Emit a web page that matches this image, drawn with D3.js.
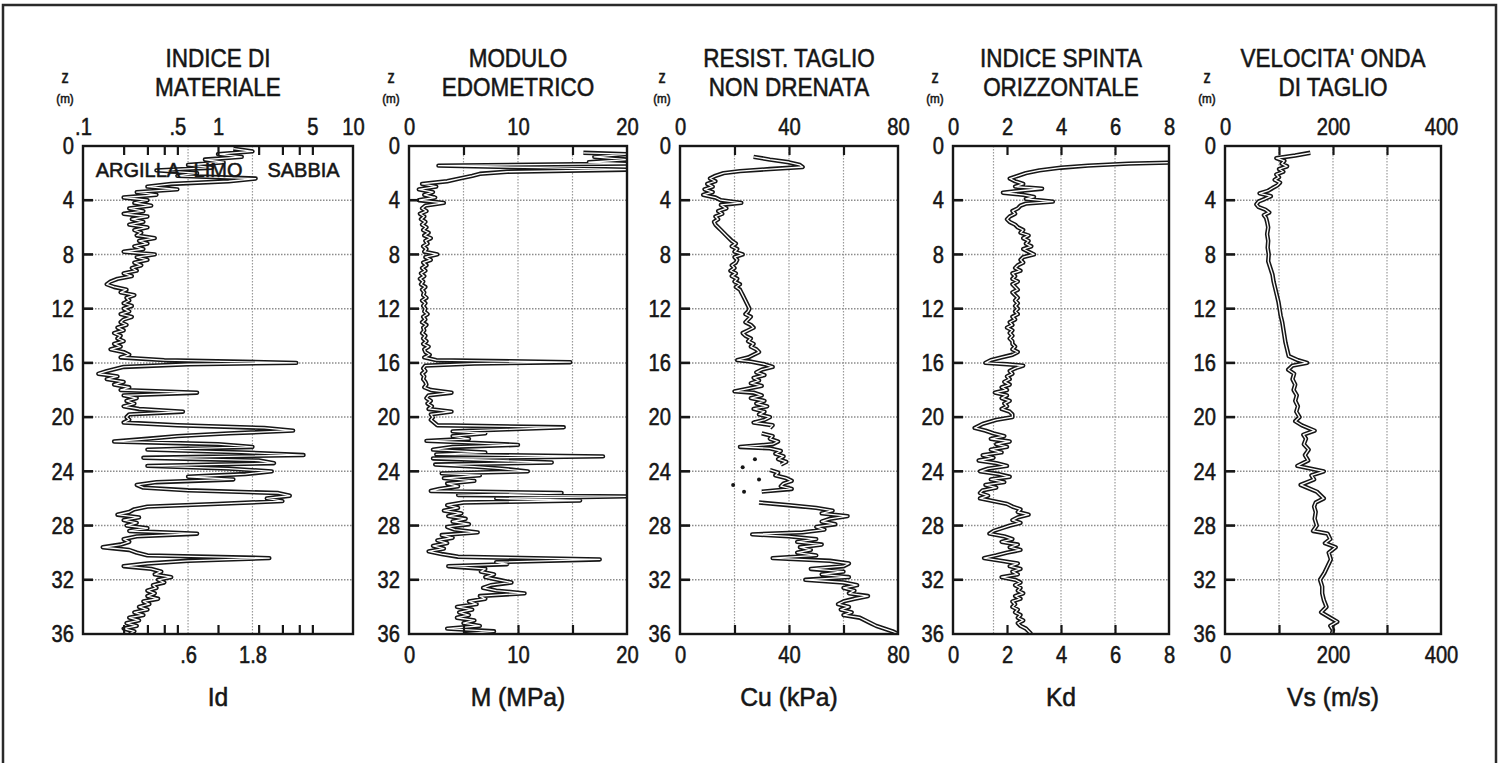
<!DOCTYPE html>
<html>
<head>
<meta charset="utf-8">
<script src="https://cdn.jsdelivr.net/npm/d3@7"></script>
<style>
  body { margin: 0; background: #fff; }
  text { font-family: "Liberation Sans", Arial, sans-serif; fill: #161616; stroke: #161616; stroke-width: 0.55px; }
</style>
</head>
<body>
<div id="chart"></div>
<script>
// ---- data: depth z (m) vs. measured value ----
const depthTicks = [0, 4, 8, 12, 16, 20, 24, 28, 32, 36];

const titles = [
  ['INDICE DI', 'MATERIALE'],
  ['MODULO', 'EDOMETRICO'],
  ['RESIST. TAGLIO', 'NON DRENATA'],
  ['INDICE SPINTA', 'ORIZZONTALE'],
  ["VELOCITA' ONDA", 'DI TAGLIO']
];
const axisTitles = ['Id', 'M (MPa)', 'Cu (kPa)', 'Kd', 'Vs (m/s)'];
const soilClasses = ['ARGILLA', 'LIMO', 'SABBIA'];
const soilClassAt = [0.255, 1.0, 4.3];

const idTopValues = [0.1, 0.5, 1, 5, 10];
const idTopLabels = ['.1', '.5', '1', '5', '10'];
const idBottomValues = [0.6, 1.8];
const idBottomLabels = ['.6', '1.8'];
const idMarks = [0.2, 0.3, 0.4, 0.5, 1, 2, 3, 4, 5];
const idGrid = [0.6, 1.8];

const mTicks = [0, 10, 20];
const mMarks = [5, 10, 15];
const cuTicks = [0, 40, 80];
const cuMarks = [20, 40, 60];
const kdTicks = [0, 2, 4, 6, 8];
const kdMarks = [2, 4, 6];
const kdGrid = [1.5, 4, 6];
const vsTicks = [0, 200, 400];
const vsMarks = [100, 200, 300];

const idProfile = [
  [0.2,1.3],[0.4,1.8],[0.6,1.0],[0.8,1.5],[1.0,0.8],[1.2,1.1],[1.4,0.6],[1.6,0.9],[1.8,0.35],[2.0,0.7],
  [2.2,0.5],[2.4,1.9],[2.6,1.2],[2.8,0.45],[3.0,0.3],[3.2,0.5],[3.4,0.25],[3.6,0.35],[3.8,0.2],[4.0,0.3],
  [4.2,0.24],[4.4,0.32],[4.6,0.22],[4.8,0.28],[5.0,0.2],[5.2,0.3],[5.4,0.23],[5.6,0.28],[5.8,0.22],[6.0,0.3],
  [6.2,0.24],[6.4,0.27],[6.6,0.25],[6.8,0.34],[7.0,0.26],[7.2,0.3],[7.4,0.24],[7.6,0.28],[7.8,0.2],[8.0,0.34],
  [8.2,0.25],[8.4,0.3],[8.6,0.24],[8.8,0.27],[9.0,0.23],[9.2,0.25],[9.4,0.2],[9.6,0.23],[9.8,0.18],[10.0,0.16],
  [10.2,0.15],[10.4,0.17],[10.6,0.21],[10.8,0.19],[11.0,0.24],[11.2,0.21],[11.4,0.22],[11.6,0.2],[11.8,0.23],[12.0,0.2],
  [12.2,0.22],[12.4,0.19],[12.6,0.23],[12.8,0.2],[13.0,0.19],[13.2,0.21],[13.4,0.18],[13.6,0.2],[13.8,0.17],[14.0,0.19],
  [14.2,0.18],[14.4,0.2],[14.6,0.17],[14.8,0.19],[15.0,0.16],[15.2,0.2],[15.4,0.22],[15.6,0.19],[15.8,0.4],[16.0,3.8],
  [16.1,0.6],[16.3,0.2],[16.6,0.15],[16.8,0.13],[17.0,0.18],[17.2,0.15],[17.4,0.2],[17.6,0.17],[17.8,0.22],[18.0,0.19],
  [18.2,0.7],[18.4,0.2],[18.6,0.25],[18.8,0.21],[19.0,0.24],[19.2,0.2],[19.4,0.26],[19.6,0.55],[19.8,0.22],[20.0,0.21],
  [20.2,0.22],[20.4,0.2],[20.6,0.5],[20.8,2.2],[21.0,3.6],[21.2,1.2],[21.4,0.5],[21.6,0.3],[21.8,0.17],[22.0,1.0],
  [22.2,1.8],[22.4,0.3],[22.6,1.5],[22.8,4.3],[23.0,0.28],[23.2,2.0],[23.4,2.6],[23.6,0.3],[23.8,1.2],[24.0,2.5],
  [24.2,1.6],[24.4,0.6],[24.6,1.3],[24.8,0.35],[25.0,0.25],[25.2,0.28],[25.4,0.6],[25.6,2.8],[25.8,3.4],[26.0,2.3],
  [26.2,3.0],[26.4,1.0],[26.6,0.3],[26.8,0.24],[27.0,0.22],[27.2,0.18],[27.4,0.26],[27.6,0.2],[27.8,0.25],[28.0,0.21],
  [28.2,0.3],[28.4,0.22],[28.6,0.7],[28.8,0.25],[29.0,0.2],[29.2,0.22],[29.4,0.19],[29.6,0.14],[29.8,0.22],[30.0,0.25],
  [30.2,0.3],[30.4,2.4],[30.6,0.6],[30.8,0.3],[31.0,0.2],[31.2,0.32],[31.4,0.38],[31.6,0.34],[31.8,0.45],[32.0,0.36],
  [32.2,0.4],[32.4,0.33],[32.6,0.35],[32.8,0.3],[33.0,0.34],[33.2,0.3],[33.4,0.36],[33.6,0.28],[33.8,0.31],[34.0,0.26],
  [34.2,0.3],[34.4,0.24],[34.6,0.28],[34.8,0.22],[35.0,0.26],[35.2,0.21],[35.4,0.25],[35.6,0.2],[35.8,0.24],[36.0,0.22]
];

const mProfile = [
  [0.5,16],[0.6,20],[0.8,17],[1.0,20],[1.2,16.5],[1.3,20],[1.45,2.7],[1.6,12],[1.75,20],[1.9,9],
  [2.05,6.5],[2.2,5.8],[2.4,4.6],[2.6,3.5],[2.8,1.2],[3.0,2.5],[3.2,0.9],[3.4,2.2],[3.6,1.4],[3.8,2.4],
  [4.0,0.9],[4.2,3.2],[4.4,1.5],[4.6,1.2],[4.8,1.6],[5.0,1.0],[5.2,1.4],[5.4,1.1],[5.6,1.5],[5.8,1.2],
  [6.0,1.6],[6.2,1.3],[6.4,1.8],[6.6,1.4],[6.8,2.0],[7.0,1.5],[7.2,1.7],[7.4,1.3],[7.6,1.6],[7.8,1.4],
  [8.0,2.6],[8.2,1.5],[8.4,2.0],[8.6,1.3],[8.8,1.6],[9.0,1.2],[9.2,1.5],[9.4,1.1],[9.6,1.4],[9.8,1.0],
  [10.0,1.3],[10.2,1.1],[10.4,1.5],[10.6,1.2],[10.8,1.4],[11.0,1.3],[11.2,1.6],[11.4,1.2],[11.6,1.5],[11.8,1.3],
  [12.0,1.5],[12.2,1.4],[12.4,1.7],[12.6,1.3],[12.8,1.5],[13.0,1.2],[13.2,1.6],[13.4,1.3],[13.6,1.4],[13.8,1.2],
  [14.0,1.5],[14.2,1.3],[14.4,1.6],[14.6,1.3],[14.8,1.8],[15.0,1.4],[15.2,1.5],[15.4,1.9],[15.6,1.4],[15.8,2.5],
  [15.95,14.8],[16.05,6],[16.2,1.5],[16.4,1.3],[16.6,1.5],[16.8,1.2],[17.0,1.4],[17.2,1.3],[17.4,1.5],[17.6,1.6],
  [17.8,1.4],[18.0,2.0],[18.2,3.9],[18.4,1.8],[18.6,1.6],[18.8,2.0],[19.0,1.7],[19.2,2.1],[19.4,1.8],[19.6,3.9],
  [19.8,2.0],[20.0,2.2],[20.2,2.0],[20.4,2.3],[20.6,2.6],[20.75,14.2],[20.9,9],[21.05,4],[21.2,7],[21.4,4],
  [21.6,5.5],[21.75,1.6],[21.9,6],[22.05,10],[22.2,4],[22.4,2.2],[22.6,7],[22.75,2.5],[22.9,17.8],[23.05,2.2],
  [23.2,8],[23.35,13.1],[23.5,2.4],[23.65,6],[23.8,8.5],[24.0,10.9],[24.15,3],[24.3,6.5],[24.5,3.2],[24.7,6],
  [24.9,3.5],[25.1,4.5],[25.3,2.8],[25.45,2.0],[25.6,14],[25.75,4.5],[25.85,20],[26.0,8],[26.15,15.7],[26.3,5],
  [26.5,3.5],[26.7,4.5],[26.9,3.2],[27.1,4.8],[27.3,3.6],[27.5,5.2],[27.7,4.0],[27.9,5.5],[28.1,3.5],[28.3,4.2],
  [28.5,6.3],[28.7,3.0],[28.9,4.0],[29.1,2.6],[29.3,3.5],[29.5,2.2],[29.7,3.2],[29.9,1.8],[30.1,3.0],[30.3,4.5],
  [30.5,17.5],[30.7,8],[30.85,9],[31.0,3.6],[31.2,7.0],[31.4,6.6],[31.6,7.8],[31.8,7.0],[32.0,8.2],[32.2,9.4],
  [32.4,7.5],[32.6,6.8],[32.8,8.0],[33.0,10.6],[33.2,6.5],[33.4,7.0],[33.6,5.5],[33.8,6.2],[34.0,4.4],[34.2,5.8],
  [34.4,4.6],[34.6,5.5],[34.8,4.4],[35.0,6.0],[35.2,5.0],[35.4,6.5],[35.6,3.5],[35.8,7.8],[36.0,5.0]
];

// null = no value (sandy layers)
const cuProfile = [
  [0.8,27],[1.0,33],[1.2,40],[1.4,44],[1.55,45],[1.7,33],[1.85,22],[2.0,16],[2.2,13],[2.4,11],
  [2.6,13],[2.8,10],[3.0,12],[3.2,9],[3.4,12],[3.6,8.5],[3.8,13],[4.0,15],[4.2,22.5],[4.35,15],
  [4.6,17],[4.8,14],[5.0,15.5],[5.2,13],[5.4,14],[5.6,12.5],[5.8,13],[6.0,14],[6.2,15],[6.4,16],
  [6.6,17],[6.8,18],[7.0,19],[7.2,20.5],[7.4,19],[7.6,21],[7.8,20],[8.0,23],[8.2,20],[8.4,21],
  [8.6,20.5],[8.8,19],[9.0,20],[9.2,18.5],[9.4,20.5],[9.6,19],[9.8,21],[10.0,20],[10.2,22],[10.4,20.5],
  [10.6,22],[10.8,22.5],[11.0,23],[11.2,23.5],[11.4,24],[11.6,24.5],[11.8,25],[12.0,25.5],[12.2,25],[12.4,24],
  [12.6,26],[12.8,25],[13.0,24],[13.2,26],[13.4,27],[13.6,25],[13.8,23],[14.0,24],[14.2,26],[14.4,25],
  [14.6,27],[14.8,26],[15.0,28],[15.2,29],[15.4,27],[15.6,25],[15.8,21],[15.9,26],[16.1,31],[16.3,34],
  [16.5,30],[16.7,28],[16.9,31],[17.1,27],[17.3,29],[17.5,26],[17.7,30],[17.9,25],[18.1,20],[18.2,27],
  [18.4,30],[18.6,26],[18.8,31],[19.0,28],[19.2,32],[19.4,27],[19.6,31],[19.8,29],[20.0,33],[20.2,31],
  [20.4,27],[20.6,34],[20.8,33],[21.0,null],[21.2,30],[21.4,34],[21.6,33],[21.8,36],[22.0,34],[22.2,22],
  [22.3,33],[22.5,37],[22.7,35],[22.9,38],[23.1,36],[23.3,39],[23.5,37],[23.7,null],[23.9,33],[24.1,36],
  [24.3,35],[24.5,39],[24.7,41],[24.9,38],[25.1,37],[25.3,41],[25.5,30],[25.6,null],[26.3,29],[26.5,40],
  [26.7,50],[26.9,56],[27.1,52],[27.3,61.5],[27.5,55],[27.7,52],[27.9,57],[28.1,50],[28.3,53],[28.5,45],
  [28.65,26.5],[28.8,40],[29.0,50],[29.2,43],[29.4,52],[29.6,44],[29.8,48],[30.0,43],[30.2,50],[30.4,34],
  [30.6,55],[30.8,62],[31.0,60],[31.2,48],[31.4,60],[31.6,52],[31.8,62],[32.0,46],[32.2,60],[32.4,65],
  [32.6,60],[32.8,64],[33.0,62],[33.2,69],[33.4,64],[33.6,60],[33.8,58],[34.0,62],[34.2,59],[34.4,63],
  [34.6,60],[34.8,66],[35.0,68],[35.2,70],[35.4,72],[35.6,75],[35.8,78],[36.0,80]
];
const cuDots = [[23.1,27.5],[23.7,23],[24.6,29],[25.0,19.5],[25.5,23.5]];

const kdProfile = [
  [1.2,8.5],[1.3,6.5],[1.45,5.0],[1.6,4.0],[1.8,3.2],[2.0,2.7],[2.2,2.4],[2.4,2.1],[2.6,2.3],[2.8,2.6],
  [3.0,2.3],[3.15,3.3],[3.3,2.5],[3.45,1.85],[3.6,2.6],[3.75,3.0],[3.9,2.7],[4.1,3.7],[4.25,2.7],[4.4,2.5],
  [4.6,2.4],[4.8,2.2],[5.0,2.3],[5.2,2.1],[5.4,2.0],[5.6,2.1],[5.8,2.3],[6.0,2.4],[6.2,2.6],[6.4,2.5],
  [6.6,2.8],[6.8,2.6],[7.0,2.8],[7.2,2.7],[7.4,2.9],[7.6,2.6],[7.8,2.8],[8.0,3.0],[8.2,2.6],[8.4,2.5],
  [8.6,2.6],[8.8,2.4],[9.0,2.3],[9.2,2.5],[9.4,2.2],[9.6,2.3],[9.8,2.2],[10.0,2.4],[10.2,2.2],[10.4,2.3],
  [10.6,2.4],[10.8,2.2],[11.0,2.3],[11.2,2.4],[11.4,2.3],[11.6,2.4],[11.8,2.3],[12.0,2.4],[12.2,2.3],[12.4,2.4],
  [12.6,2.2],[12.8,2.3],[13.0,2.1],[13.2,2.2],[13.4,2.0],[13.6,2.2],[13.8,2.1],[14.0,2.2],[14.2,2.1],[14.4,2.2],
  [14.6,2.2],[14.8,2.3],[15.0,2.2],[15.2,2.4],[15.4,2.2],[15.6,1.8],[15.8,1.4],[16.0,1.2],[16.1,2.0],[16.2,2.6],
  [16.4,2.3],[16.6,2.1],[16.8,2.2],[17.0,2.0],[17.2,2.1],[17.4,1.9],[17.6,2.1],[17.8,1.8],[18.0,2.0],[18.2,1.55],
  [18.4,2.0],[18.6,1.8],[18.8,2.1],[19.0,1.9],[19.2,2.0],[19.4,1.8],[19.6,2.1],[19.8,2.2],[20.0,2.2],[20.2,1.6],
  [20.5,1.1],[20.8,0.8],[21.0,1.2],[21.2,1.5],[21.4,1.9],[21.6,1.4],[21.8,2.1],[22.0,1.6],[22.2,2.0],[22.4,1.4],
  [22.6,1.8],[22.8,1.1],[23.0,1.5],[23.2,0.95],[23.4,1.6],[23.6,2.0],[23.8,1.3],[24.0,1.0],[24.2,1.7],[24.4,2.1],
  [24.6,1.4],[24.8,1.9],[25.0,1.2],[25.2,1.6],[25.4,1.1],[25.6,1.0],[25.8,1.3],[26.0,1.0],[26.2,1.5],[26.4,2.0],
  [26.6,2.2],[26.8,2.5],[27.0,2.4],[27.2,2.8],[27.4,2.4],[27.6,2.2],[27.8,2.5],[28.0,2.1],[28.2,1.8],[28.4,1.5],
  [28.6,1.35],[28.8,1.9],[29.0,2.2],[29.2,1.8],[29.4,2.4],[29.6,2.1],[29.8,2.5],[30.0,2.0],[30.2,1.6],[30.4,1.15],
  [30.6,1.8],[30.8,2.4],[31.0,2.1],[31.2,2.5],[31.4,2.2],[31.6,2.4],[31.8,1.8],[32.0,2.3],[32.2,2.5],[32.4,2.3],
  [32.6,2.5],[32.8,2.4],[33.0,2.6],[33.2,2.3],[33.4,2.5],[33.6,2.2],[33.8,2.3],[34.0,2.2],[34.2,2.4],[34.4,2.3],
  [34.6,2.5],[34.8,2.4],[35.0,2.6],[35.2,2.4],[35.4,2.5],[35.6,2.7],[35.8,2.8],[36.0,2.9]
];

const vsProfile = [
  [0.5,158],[0.7,130],[0.9,95],[1.1,110],[1.3,105],[1.5,115],[1.7,100],[1.9,108],[2.1,95],[2.3,100],
  [2.5,92],[2.7,102],[2.9,97],[3.1,88],[3.3,80],[3.5,64],[3.7,85],[3.9,74],[4.1,62],[4.3,58],
  [4.5,62],[4.7,75],[4.9,82],[5.1,72],[5.3,76],[5.6,78],[6.0,80],[6.5,78],[7.0,80],[7.5,79],
  [8.0,81],[8.5,80],[9.0,84],[9.5,88],[10.0,90],[10.5,93],[11.0,96],[11.5,99],[12.0,101],[12.5,103],
  [13.0,106],[13.5,108],[14.0,110],[14.5,112],[15.0,115],[15.5,118],[15.8,135],[16.0,152],[16.2,125],[16.5,117],
  [16.8,128],[17.2,125],[17.6,130],[18.0,127],[18.4,133],[18.8,130],[19.2,135],[19.6,132],[20.0,138],[20.3,130],
  [20.6,142],[21.0,166],[21.3,145],[21.6,150],[22.0,146],[22.4,155],[22.8,148],[23.2,154],[23.6,134],[24.0,183],
  [24.3,160],[24.6,165],[25.0,140],[25.5,170],[26.0,183],[26.3,168],[26.6,165],[27.0,168],[27.5,166],[28.0,170],
  [28.4,163],[28.6,190],[29.0,195],[29.3,185],[29.6,205],[30.0,192],[30.5,196],[31.0,190],[31.5,184],[32.0,176],
  [32.5,180],[33.0,180],[33.5,183],[34.0,188],[34.4,178],[34.8,195],[35.1,208],[35.4,195],[35.7,200],[36.0,198]
];

// ---- layout ----
const W = 1499, H = 763;
const plotTop = 146, plotBottom = 634;
const panelX = [[83, 353], [409, 627], [680, 898], [953, 1169], [1225, 1441]];
const ink = '#161616';

const panels = [
  { log: true, domain: [0.1, 10], data: idProfile, marks: idMarks, grid: idGrid,
    top: idTopValues, topFmt: (d, i) => idTopLabels[i], bottom: idBottomValues, bottomFmt: (d, i) => idBottomLabels[i] },
  { domain: [0, 20], data: mProfile, marks: mMarks, grid: mMarks, top: mTicks, bottom: mTicks },
  { domain: [0, 80], data: cuProfile, marks: cuMarks, grid: cuMarks, top: cuTicks, bottom: cuTicks, dots: cuDots },
  { domain: [0, 8], data: kdProfile, marks: kdMarks, grid: kdGrid, top: kdTicks, bottom: kdTicks },
  { domain: [0, 400], data: vsProfile, marks: vsMarks, grid: vsMarks, top: vsTicks, bottom: vsTicks }
];

const svg = d3.select('#chart').append('svg')
  .attr('width', W)
  .attr('height', H);

svg.append('rect')
  .attr('width', W).attr('height', H)
  .attr('fill', '#fff');

// outer frame (its bottom edge runs off the picture)
svg.append('rect')
  .attr('x', 3).attr('y', 5)
  .attr('width', W - 6).attr('height', H)
  .attr('fill', 'none')
  .attr('stroke', '#2a2a2a')
  .attr('stroke-width', 2.5);

// squeeze text horizontally (the original lettering is condensed)
function squeeze(sel, k) {
  sel.each(function() {
    const t = d3.select(this);
    const x = +t.attr('x') || 0;
    t.attr('x', x / k).attr('transform', `scale(${k},1)`);
  });
}

const y = d3.scaleLinear().domain([0, 36]).range([plotTop, plotBottom]);

panels.forEach((p, i) => {
  const [x0, x1] = panelX[i];
  const x = (p.log ? d3.scaleLog() : d3.scaleLinear()).domain(p.domain).range([x0, x1]);
  const g = svg.append('g').attr('class', 'panel-' + i);

  //Dotted grid
  g.append('g').selectAll('line')
    .data(depthTicks.slice(1, -1))
    .join('line')
    .attr('x1', x0).attr('x2', x1)
    .attr('y1', d => y(d)).attr('y2', d => y(d))
    .attr('stroke', '#8c8c8c')
    .attr('stroke-width', 1.5)
    .attr('stroke-dasharray', '1.5,1.5');

  g.append('g').selectAll('line')
    .data(p.grid)
    .join('line')
    .attr('x1', d => x(d)).attr('x2', d => x(d))
    .attr('y1', plotTop).attr('y2', plotBottom)
    .attr('stroke', '#9a9a9a')
    .attr('stroke-width', 1.2)
    .attr('stroke-dasharray', '1.5,1.5');

  //Clip the profile to the box
  svg.append('clipPath').attr('id', 'clip' + i)
    .append('rect')
    .attr('x', x0).attr('y', plotTop)
    .attr('width', x1 - x0).attr('height', plotBottom - plotTop);

  const line = d3.line()
    .defined(d => d[1] != null)
    .x(d => x(d[1]))
    .y(d => y(d[0]));

  const trace = g.append('g').attr('clip-path', `url(#clip${i})`);
  trace.append('path')
    .attr('d', line(p.data))
    .attr('fill', 'none')
    .attr('stroke', ink)
    .attr('stroke-width', 4.4)
    .attr('stroke-linejoin', 'round');
  trace.append('path')
    .attr('d', line(p.data))
    .attr('fill', 'none')
    .attr('stroke', '#fff')
    .attr('stroke-width', 1.3)
    .attr('stroke-linejoin', 'round');

  if (p.dots) {
    trace.selectAll('circle')
      .data(p.dots)
      .join('circle')
      .attr('cx', d => x(d[1]))
      .attr('cy', d => y(d[0]))
      .attr('r', 2)
      .attr('fill', ink);
  }

  //Box
  g.append('rect')
    .attr('x', x0).attr('y', plotTop)
    .attr('width', x1 - x0).attr('height', plotBottom - plotTop)
    .attr('fill', 'none')
    .attr('stroke', ink)
    .attr('stroke-width', 2.4);

  //Inward tick marks on top and bottom edges
  const marksTop = g.append('g')
    .attr('transform', `translate(0,${plotTop})`)
    .call(d3.axisTop(x).tickValues(p.marks).tickSize(-9).tickFormat(''));
  const marksBottom = g.append('g')
    .attr('transform', `translate(0,${plotBottom})`)
    .call(d3.axisBottom(x).tickValues(p.marks).tickSize(-9).tickFormat(''));
  [marksTop, marksBottom].forEach(s => {
    s.select('.domain').remove();
    s.selectAll('line').attr('stroke', ink).attr('stroke-width', 2.2);
  });

  //Depth ticks on the left edge
  const left = g.append('g')
    .attr('transform', `translate(${x0},0)`)
    .call(d3.axisLeft(y).tickValues(depthTicks).tickSize(0).tickPadding(9).tickFormat(d3.format('d')));
  left.select('.domain').remove();
  left.selectAll('text').style('font-size', '24px').attr('fill', ink);
  squeeze(left.selectAll('text'), 0.84);

  g.append('g').selectAll('line')
    .data(depthTicks.slice(1, -1))
    .join('line')
    .attr('x1', x0).attr('x2', x0 + 10)
    .attr('y1', d => y(d)).attr('y2', d => y(d))
    .attr('stroke', ink)
    .attr('stroke-width', 2.6);

  //Value labels on top and bottom
  const topAxis = g.append('g')
    .attr('transform', `translate(0,${plotTop})`)
    .call(d3.axisTop(x).tickValues(p.top).tickSize(0).tickPadding(11)
      .tickFormat(p.topFmt || d3.format('d')));
  const bottomAxis = g.append('g')
    .attr('transform', `translate(0,${plotBottom})`)
    .call(d3.axisBottom(x).tickValues(p.bottom).tickSize(0).tickPadding(12)
      .tickFormat(p.bottomFmt || d3.format('d')));
  [topAxis, bottomAxis].forEach(s => {
    s.select('.domain').remove();
    s.selectAll('text').style('font-size', '24px').attr('fill', ink);
    squeeze(s.selectAll('text'), 0.84);
  });

  //Titles
  const cx = (x0 + x1) / 2;
  titles[i].forEach((t, k) => {
    g.append('text')
      .attr('x', cx).attr('y', 67 + k * 29)
      .attr('text-anchor', 'middle')
      .style('font-size', '25px')
      .text(t)
      .call(s => squeeze(s, 0.9));
  });

  g.append('text')
    .attr('x', cx).attr('y', 706)
    .attr('text-anchor', 'middle')
    .style('font-size', '26px')
    .text(axisTitles[i])
    .call(s => squeeze(s, 0.95));

  //Depth unit label
  g.append('text')
    .attr('x', x0 - 18).attr('y', 83)
    .attr('text-anchor', 'middle')
    .style('font-size', '18px')
    .text('z')
    .call(s => squeeze(s, 0.8));
  g.append('text')
    .attr('x', x0 - 18).attr('y', 103)
    .attr('text-anchor', 'middle')
    .style('font-size', '13px')
    .text('(m)')
    .call(s => squeeze(s, 0.9));

  //Soil classes inside the Id panel
  if (p.log) {
    g.append('g').selectAll('text')
      .data(soilClasses)
      .join('text')
      .attr('x', (d, k) => x(soilClassAt[k]))
      .attr('y', 177)
      .attr('text-anchor', 'middle')
      .style('font-size', '20px')
      .text(d => d);
  }
});
</script>
</body>
</html>
